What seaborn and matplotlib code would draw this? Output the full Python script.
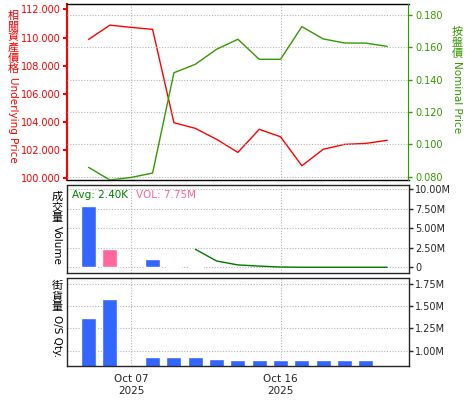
import pandas as pd
import matplotlib
matplotlib.use("Agg")
import matplotlib.pyplot as plt
import matplotlib.ticker as mticker
import seaborn as sns

# x axis = trading-day index (2 -> Oct 07, 9 -> Oct 16)
tick_days = [2, 9]
tick_labels = ["Oct 07\n2025", "Oct 16\n2025"]

price_days = list(range(15))
underlying = [109.87, 110.88, 110.72, 110.58, 103.95, 103.55, 102.77, 101.84,
              103.48, 102.95, 100.89, 102.06, 102.41, 102.48, 102.70]
nominal = [0.0858, 0.0780, 0.0796, 0.0823, 0.1443, 0.1495, 0.1588, 0.1650,
           0.1526, 0.1526, 0.1728, 0.1652, 0.1627, 0.1626, 0.1606]

vol_days = [0, 1, 3, 4, 5]
volume_m = [7.83, 2.34, 1.06, 0.22, 0.22]
vol_kind = ["up", "down", "up", "up", "up"]

avg_days = [5, 6, 7, 8, 9, 10, 11, 12, 13, 14]
avg_vol_m = [2.3, 0.8, 0.3, 0.15, 0.03, 0.0, 0.0, 0.0, 0.0, 0.0]

os_days = [0, 1, 3, 4, 5, 6, 7, 8, 9, 10, 11, 12, 13]
os_qty_m = [1.368, 1.58, 0.929, 0.929, 0.929, 0.906, 0.895, 0.895, 0.895,
            0.895, 0.895, 0.895, 0.895]

RED = "#ff0000"
GREEN = "#339900"
BLUE = "#3366ff"
PINK = "#ff6699"
GRID = "#b4b4b4"
CJK = ["Noto Sans CJK TC", "DejaVu Sans"]

sns.set_style("white")
plt.rcParams["font.family"] = ["DejaVu Sans"]
plt.rcParams["font.size"] = 7

W, H = 475, 400
fig = plt.figure(figsize=(W / 100, H / 100), dpi=100)


def px_box(x0, y0, x1, y1):
    return [x0 / W, 1 - y1 / H, (x1 - x0) / W, (y1 - y0) / H]


ax_top = fig.add_axes(px_box(67.3, 4.3, 408.5, 180))
ax_mid = fig.add_axes(px_box(67.3, 185, 408.5, 273.3))
ax_bot = fig.add_axes(px_box(67.3, 278.3, 408.5, 365.7))

dotted = (0, (1, 1))
grid_kw = dict(color=GRID, linestyle=(0, (1, 1.5)), linewidth=0.8)

# ---- top panel: underlying price / nominal price
price_df = pd.DataFrame({"day": price_days, "underlying": underlying, "nominal": nominal})
sns.lineplot(data=price_df, x="day", y="underlying", ax=ax_top, color=RED, linewidth=1)
ax_top2 = ax_top.twinx()
sns.lineplot(data=price_df, x="day", y="nominal", ax=ax_top2, color=GREEN, linewidth=1)

ax_top.set_ylim(99.88, 112.36)
ax_top.set_yticks([100, 102, 104, 106, 108, 110, 112])
ax_top.yaxis.set_major_formatter(mticker.FormatStrFormatter("%.3f"))
ax_top.tick_params(axis="y", colors=RED, length=3, width=1.5, pad=2, labelsize=7)
ax_top2.set_ylim(0.078, 0.1866)
ax_top2.set_yticks([0.08, 0.10, 0.12, 0.14, 0.16, 0.18])
ax_top2.yaxis.set_major_formatter(mticker.FormatStrFormatter("%.3f"))
ax_top2.tick_params(axis="y", colors=GREEN, length=3, width=1, pad=2, labelsize=7)
ax_top2.grid(axis="y", **grid_kw)
ax_top2.set_ylabel("")
ax_top.set_ylabel("")

for s in ["top", "bottom"]:
    ax_top.spines[s].set_linestyle(dotted)
    ax_top.spines[s].set_color("black")
    ax_top2.spines[s].set_visible(False)
ax_top.spines["right"].set_visible(False)
ax_top2.spines["left"].set_visible(False)
ax_top2.spines["right"].set_color(GREEN)

# ---- middle panel: volume
vol_df = pd.DataFrame({"day": vol_days, "vol": volume_m, "kind": vol_kind})
sns.barplot(data=vol_df, x="day", y="vol", hue="kind", palette={"up": BLUE, "down": PINK},
            native_scale=True, width=0.7, dodge=False, errorbar=None, legend=False,
            saturation=1, ax=ax_mid)
avg_df = pd.DataFrame({"day": avg_days, "avg": avg_vol_m})
sns.lineplot(data=avg_df, x="day", y="avg", ax=ax_mid, color="#007700", linewidth=1)
ax_mid.set_ylim(-0.77, 10.5)
ax_mid.set_yticks([0, 2.5, 5, 7.5, 10])
ax_mid.yaxis.set_major_formatter(
    mticker.FuncFormatter(lambda v, p: "0" if v == 0 else f"{v:.2f}M"))
ax_mid.yaxis.tick_right()
ax_mid.tick_params(axis="y", length=3, width=1, pad=2, labelsize=7)
ax_mid.grid(axis="y", **grid_kw)
ax_mid.text(0.013, 0.885, "Avg: 2.40K", color="#008000", fontsize=7.5,
            transform=ax_mid.transAxes, va="center", ha="left")
ax_mid.text(0.2, 0.885, "VOL: 7.75M", color=PINK, fontsize=7.5,
            transform=ax_mid.transAxes, va="center", ha="left")
for s in ["top", "bottom", "left"]:
    ax_mid.spines[s].set_linestyle(dotted)
ax_mid.set_ylabel("")

# ---- bottom panel: outstanding quantity
os_df = pd.DataFrame({"day": os_days, "qty": os_qty_m})
sns.barplot(data=os_df, x="day", y="qty", color=BLUE, native_scale=True, width=0.7,
            errorbar=None, saturation=1, ax=ax_bot)
ax_bot.set_ylim(0.83, 1.814)
ax_bot.set_yticks([1.0, 1.25, 1.5, 1.75])
ax_bot.yaxis.set_major_formatter(mticker.FuncFormatter(lambda v, p: f"{v:.2f}M"))
ax_bot.yaxis.tick_right()
ax_bot.tick_params(axis="y", length=3, width=1, pad=2, labelsize=7)
ax_bot.grid(axis="y", **grid_kw)
for s in ["top", "left"]:
    ax_bot.spines[s].set_linestyle(dotted)
ax_bot.set_ylabel("")

for ax in [ax_top, ax_mid, ax_bot]:
    for s in ax.spines.values():
        s.set_linewidth(1)
    ax.set_xlim(-1, 15)
    ax.set_xticks(tick_days)
    ax.grid(axis="x", **grid_kw)
    ax.set_xlabel("")
    ax.set_axisbelow(True)
ax_top.spines["left"].set_color(RED)
ax_top.spines["left"].set_linewidth(1.5)
ax_top2.set_xlim(-1, 15)
ax_top.tick_params(axis="x", length=0, labelbottom=False)
ax_mid.tick_params(axis="x", length=0, labelbottom=False)
ax_bot.set_xticklabels(tick_labels)
ax_bot.tick_params(axis="x", length=3, width=1, pad=3, labelsize=7.5)


# ---- vertical axis titles: upright CJK characters stacked, then rotated latin text
def vertical_title(x_px, y_px, cjk, latin, color, step=10.6):
    for i, ch in enumerate(cjk):
        fig.text(x_px / W, 1 - (y_px + i * step) / H, ch, family=CJK, fontsize=8,
                 color=color, ha="center", va="top")
    y_end = y_px + len(cjk) * step + 2
    fig.text(x_px / W, 1 - y_end / H, latin, rotation=270, fontsize=7.5, color=color,
             ha="center", va="top")


vertical_title(13, 11, "相關資產價格", "Underlying Price", RED)
vertical_title(457, 27, "按盤價", "Nominal Price", GREEN)
vertical_title(57, 192, "成交量", "Volume", "black")
vertical_title(57, 281, "街貨量", "O/S Qty.", "black")

fig.savefig("out.png", dpi=100)
